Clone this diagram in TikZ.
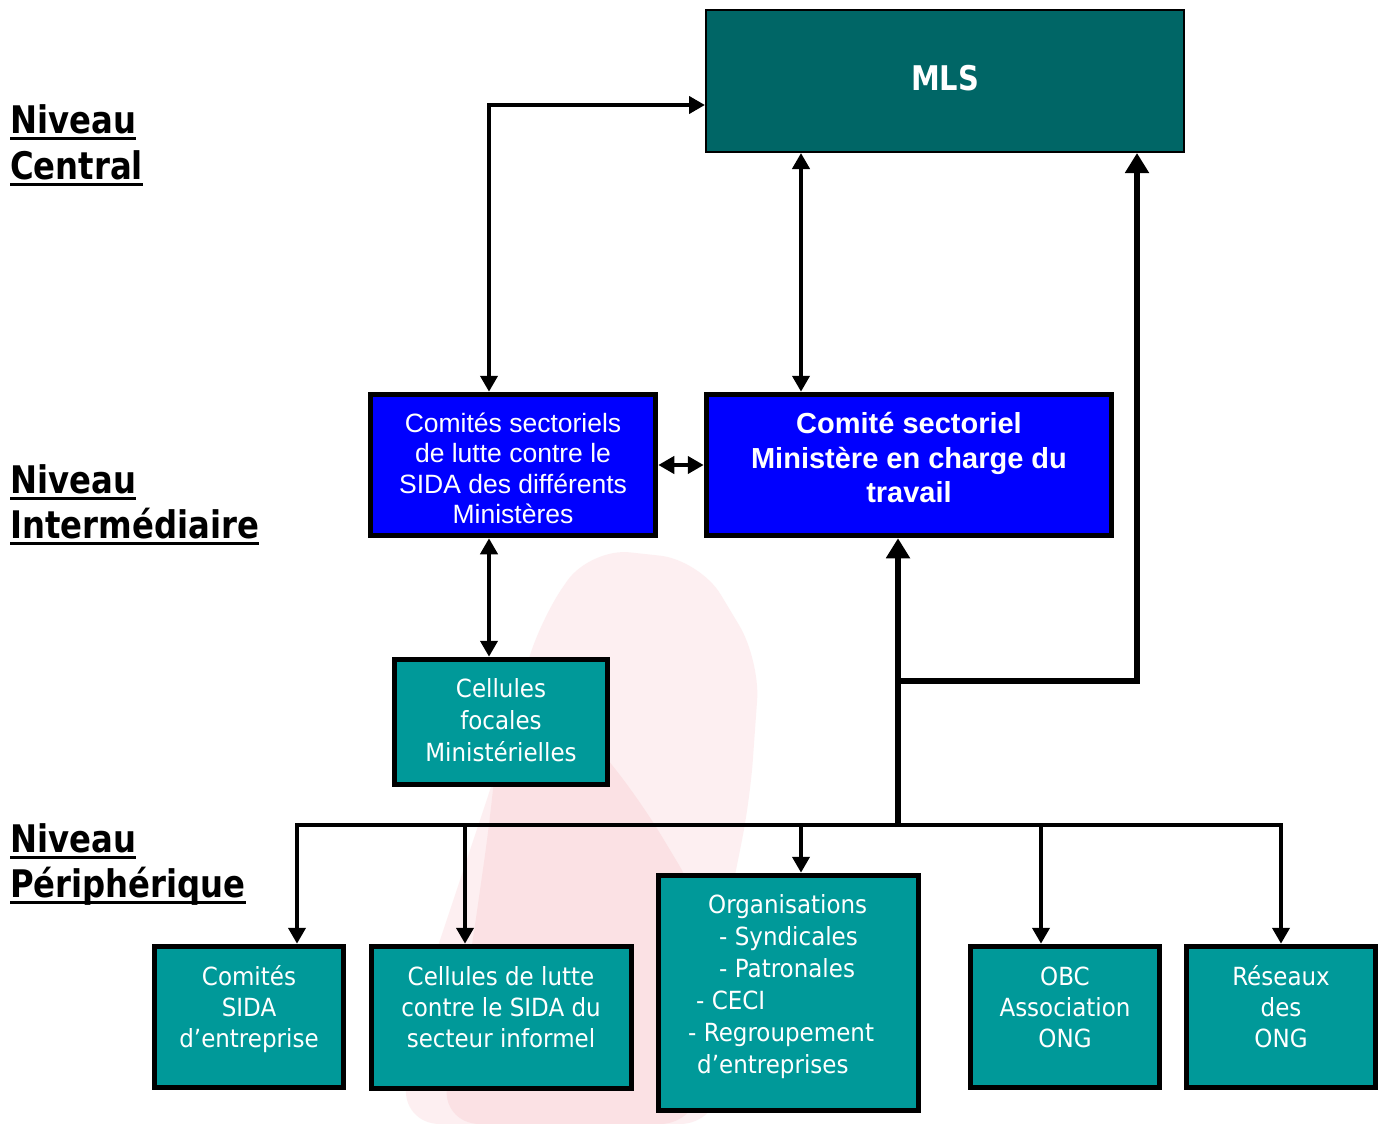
\documentclass[tikz,border=0pt]{standalone}
\usepackage{fontspec}
\setmainfont{DejaVu Sans}
\newfontfamily\tahomaf{DejaVu Sans}[FakeStretch=0.92]
\newfontfamily\tahomabf{DejaVu Sans Bold}[FakeStretch=0.85]
\newfontfamily\arialf{Liberation Sans}
\usetikzlibrary{arrows.meta,calc}
\definecolor{mlsc}{HTML}{006666}
\definecolor{tealc}{HTML}{009999}
\definecolor{bluec}{HTML}{0000FF}
\definecolor{ribbonc}{HTML}{F9CDD2}
\begin{document}
\begin{tikzpicture}[x=1pt,y=-1pt,
  boxbase/.style={draw=black, line width=5.5pt, inner sep=0pt},
  tealbox/.style={boxbase, fill=tealc},
  bluebox/.style={boxbase, fill=bluec},
  conn/.style={line width=4.5pt, -{Triangle[length=16pt,width=17pt]}},
  biconn/.style={line width=4.5pt, {Triangle[length=16pt,width=17pt]}-{Triangle[length=16pt,width=17pt]}},
  thickconn/.style={line width=6.5pt, -{Triangle[length=20pt,width=23pt]}},
  tt/.style={text=white, inner sep=0pt, anchor=base, font=\tahomaf\fontsize{25}{30}\selectfont},
  ttl/.style={tt, anchor=base west},
  bt/.style={text=white, inner sep=0pt, anchor=base, font=\arialf\fontsize{26.5}{31}\selectfont},
  bbt/.style={text=white, inner sep=0pt, anchor=base, font=\arialf\bfseries\fontsize{29}{35}\selectfont},
  lvl/.style={text=black, inner sep=0pt, anchor=base west, font=\tahomabf\fontsize{38}{45}\selectfont},
  uline/.style={line width=3.5pt},
  wash/.style={fill=ribbonc, draw=none},
]
\useasboundingbox (0,0) rectangle (1390,1124);
\fill[white] (0,0) rectangle (1390,1124);

% faint, blurred background ribbon
\begin{scope}[opacity=0.3]
\fill[wash, rounded corners=40pt]
  (590,548) -- (700,560) -- (760,660) -- (750,800) -- (720,950) -- (720,1124)
  -- (400,1124) -- (420,1000) -- (460,880) -- (500,760) -- (540,620) -- cycle;
\end{scope}
\begin{scope}[opacity=0.4]
\fill[wash, rounded corners=40pt]
  (500,720) -- (560,700) -- (640,800) -- (700,900) -- (700,1124)
  -- (440,1124) -- (470,960) -- (490,820) -- cycle;
\end{scope}

% boxes
\node[draw=black, line width=2pt, fill=mlsc, minimum width=478pt, minimum height=142pt, inner sep=0pt] (mls) at (945,81) {};
\node[bluebox, minimum width=285pt, minimum height=141pt] (com) at (513,465) {};
\node[bluebox, minimum width=405pt, minimum height=141pt] (trav) at (909,465) {};
\node[tealbox, minimum width=213pt, minimum height=125pt] (foc) at (501,722) {};
\node[tealbox, minimum width=189pt, minimum height=141pt] (ent) at (249,1017) {};
\node[tealbox, minimum width=260pt, minimum height=142pt] (inf) at (501.5,1017.5) {};
\node[tealbox, minimum width=260pt, minimum height=235pt] (org) at (788.5,993) {};
\node[tealbox, minimum width=189pt, minimum height=141pt] (obc) at (1065,1017) {};
\node[tealbox, minimum width=189pt, minimum height=141pt] (res) at (1281,1017) {};

% texts
\node[text=white, inner sep=0pt, anchor=base, font=\tahomabf\fontsize{34}{40}\selectfont] (mlst) at (945,90) {MLS};

\node[bt] (com1) at (513,432) {Comités sectoriels};
\node[bt] (com2) at (513,462) {de lutte contre le};
\node[bt] (com3) at (513,493) {SIDA des différents};
\node[bt] (com4) at (513,523) {Ministères};

\node[bbt] (trav1) at (909,433) {Comité sectoriel};
\node[bbt] (trav2) at (909,468) {Ministère en charge du};
\node[bbt] (trav3) at (909,502) {travail};

\node[tt] (foc1) at (501,697) {Cellules};
\node[tt] (foc2) at (501,729) {focales};
\node[tt] (foc3) at (501,761) {Ministérielles};

\node[tt] (ent1) at (249,985) {Comités};
\node[tt] (ent2) at (249,1016) {SIDA};
\node[tt] (ent3) at (249,1047) {d’entreprise};

\node[tt] (inf1) at (501,985) {Cellules de lutte};
\node[tt] (inf2) at (501,1016) {contre le SIDA du};
\node[tt] (inf3) at (501,1047) {secteur informel};

\node[tt] (obc1) at (1065,985) {OBC};
\node[tt] (obc2) at (1065,1016) {Association};
\node[tt] (obc3) at (1065,1047) {ONG};

\node[tt] (res1) at (1281,985) {Réseaux};
\node[tt] (res2) at (1281,1016) {des};
\node[tt] (res3) at (1281,1047) {ONG};

\node[ttl] (org1) at (708,913) {Organisations};
\node[ttl] (org2) at (719,945) {- Syndicales};
\node[ttl] (org3) at (719,977) {- Patronales};
\node[ttl] (org4) at (696,1009) {- CECI};
\node[ttl] (org5) at (688,1041) {- Regroupement};
\node[ttl] (org6) at (697,1073) {d’entreprises};

% level labels
\node[lvl] (lc1) at (10,133) {Niveau};
\node[lvl] (lc2) at (10,179) {Central};
\node[lvl] (li1) at (10,493) {Niveau};
\node[lvl] (li2) at (10,538) {Intermédiaire};
\node[lvl] (lp1) at (10,852) {Niveau};
\node[lvl] (lp2) at (10,897) {Périphérique};
\foreach \n in {lc1,lc2,li1,li2,lp1,lp2}
  \draw[uline] ($(\n.base west)+(0,5.5)$) -- ($(\n.base east)+(0,5.5)$);

% lane coordinates
\coordinate (xA) at (489,0);
\coordinate (yA) at (0,105);
\coordinate (xB) at (801,0);
\coordinate (xC) at (898,0);
\coordinate (xD) at (1137,0);
\coordinate (busL) at (297,825);
\coordinate (busR) at (1281,825);
\coordinate (busM) at (898,827);
\coordinate (junc) at (898,681);
\coordinate (d1) at (297,825);
\coordinate (d2) at (465,825);
\coordinate (d3) at (801,825);
\coordinate (d4) at (1041,825);
\coordinate (d5) at (1281,825);

% connectors
\draw[biconn] (com.north -| xA) |- (mls.west |- yA);
\draw[biconn] (mls.south -| xB) -- (trav.north -| xB);
\draw[biconn] (com.east) -- (trav.west);
\draw[biconn] (com.south -| xA) -- (foc.north -| xA);

\draw[thickconn] (busM) -- (trav.south -| xC);
\draw[thickconn] (junc) -| (mls.south -| xD);

\draw[line width=4.5pt, line cap=rect] (busL) -- (busR);
\draw[conn] (d1) -- (ent.north -| d1);
\draw[conn] (d2) -- (inf.north -| d2);
\draw[conn] (d3) -- (org.north -| d3);
\draw[conn] (d4) -- (obc.north -| d4);
\draw[conn] (d5) -- (res.north -| d5);
\end{tikzpicture}
\end{document}
